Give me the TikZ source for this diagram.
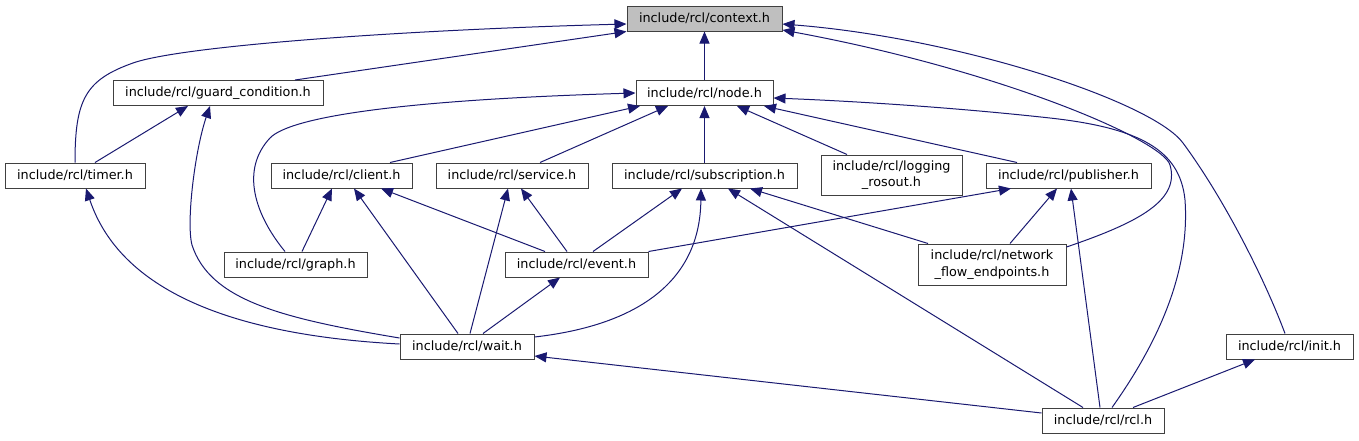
\documentclass[tikz,border=0pt]{standalone}
\usepackage{fontspec}
\setmainfont{DejaVu Sans}
\usepackage{tikz}
\usetikzlibrary{arrows.meta}
\definecolor{edgeblue}{HTML}{191970}
\definecolor{boxgray}{HTML}{404040}
\definecolor{focusgray}{HTML}{BFBFBF}

\begin{document}
\begin{tikzpicture}[x=0.75pt, y=-0.75pt,
  hdr/.style={draw=boxgray, fill=white, line width=0.75pt, inner sep=0pt,
    minimum height=18.75pt, align=center, font=\fontsize{9.6}{12.5}\selectfont},
  inc/.style={draw=edgeblue, line width=0.75pt, -{Triangle[length=9pt,width=7.5pt]}}]
  \useasboundingbox (0,0) rectangle (1359,440);

  \node[hdr, fill=focusgray, minimum width=116.25pt] (context) at (704.5,18.5) {include/rcl/context.h};
  \node[hdr, minimum width=102.75pt] (rclnode) at (704.5,93) {include/rcl/node.h};
  \node[hdr, minimum width=157.5pt] (guard) at (218,93) {include/rcl/guard\_condition.h};
  \node[hdr, minimum width=105pt] (timer) at (75,175.5) {include/rcl/timer.h};
  \node[hdr, minimum width=105.75pt] (client) at (341.5,175.5) {include/rcl/client.h};
  \node[hdr, minimum width=114pt] (service) at (512,175.5) {include/rcl/service.h};
  \node[hdr, minimum width=138.75pt] (subscription) at (704.5,175.5) {include/rcl/subscription.h};
  \node[hdr, minimum width=105.75pt, minimum height=30pt] (logging) at (891.5,175) {include/rcl/logging\\\_rosout.h};
  \node[hdr, minimum width=123.75pt] (publisher) at (1068.5,175.5) {include/rcl/publisher.h};
  \node[hdr, minimum width=107.25pt] (graph) at (295.5,264.5) {include/rcl/graph.h};
  \node[hdr, minimum width=107.25pt] (event) at (576.5,264.5) {include/rcl/event.h};
  \node[hdr, minimum width=111pt, minimum height=30.75pt] (flow) at (992,264.5) {include/rcl/network\\\_flow\_endpoints.h};
  \node[hdr, minimum width=100.5pt] (wait) at (467,346.5) {include/rcl/wait.h};
  \node[hdr, minimum width=95.25pt] (init) at (1289.5,346.5) {include/rcl/init.h};
  \node[hdr, minimum width=91.5pt] (rcl) at (1103,420.5) {include/rcl/rcl.h};

  \draw[inc] (timer.north) .. controls (75,100) and (85,80) .. (133,63)
    .. controls (181,46) and (400,30) .. (context.west |- 0,24);
  \draw[inc] (guard.north -| 295,0) -- (context.south west);
  \draw[inc] (rclnode) -- (context);
  \draw[inc] (flow.east |- 0,247) .. controls (1140,222) and (1180,200) .. (1170,165)
    .. controls (1163,140) and (1000,70) .. (context.east |- 0,30);
  \draw[inc] (init.north -| 1285,0) .. controls (1265,280) and (1225,200) .. (1183,143)
    .. controls (1153,102) and (960,38) .. (context.east |- 0,24);

  \draw[inc] (graph.north -| 285,0) .. controls (255,215) and (240,170) .. (270,138)
    .. controls (290,117) and (400,100) .. (rclnode.west);
  \draw[inc] (client.north -| 390,0) -- (rclnode.south -| 640,0);
  \draw[inc] (service.north -| 540,0) -- (rclnode.south -| 668,0);
  \draw[inc] (subscription) -- (rclnode);
  \draw[inc] (logging.north -| 847,0) -- (rclnode.south -| 737,0);
  \draw[inc] (publisher.north -| 1017,0) -- (rclnode.south -| 764,0);
  \draw[inc] (rcl.north -| 1112,0) .. controls (1160,340) and (1190,270) .. (1185,200)
    .. controls (1180,150) and (1140,128) .. (1050,118)
    .. controls (950,107) and (850,101) .. (rclnode.east |- 0,98);

  \draw[inc] (timer.north -| 95,0) -- (guard.south -| 188,0);
  \draw[inc] (wait.west |- 0,338) .. controls (280,318) and (210,300) .. (192,245)
    .. controls (186,222) and (195,150) .. (guard.south -| 210,0);
  \draw[inc] (wait.west |- 0,344) .. controls (230,335) and (120,290) .. (timer.south -| 86,0);

  \draw[inc] (graph.north -| 302,0) -- (client.south -| 332,0);
  \draw[inc] (wait.north -| 458,0) -- (client.south -| 354,0);
  \draw[inc] (event.north -| 545,0) -- (client.south -| 381,0);
  \draw[inc] (wait.north -| 470,0) -- (service.south -| 508,0);
  \draw[inc] (event.north -| 567,0) -- (service.south -| 521,0);

  \draw[inc] (event.north -| 593,0) -- (subscription.south -| 682,0);
  \draw[inc] (wait.east |- 0,337) .. controls (640,325) and (700,280) .. (subscription.south -| 701,0);
  \draw[inc] (rcl.north -| 1083,0) -- (subscription.south -| 728,0);
  \draw[inc] (flow.north -| 928,0) -- (subscription.south -| 750,0);

  \draw[inc] (event.north east) -- (publisher.south -| 1011,0);
  \draw[inc] (flow.north -| 1010,0) -- (publisher.south -| 1057,0);
  \draw[inc] (rcl.north -| 1100,0) -- (publisher.south -| 1071,0);

  \draw[inc] (wait.north -| 483,0) -- (event.south -| 560,0);
  \draw[inc] (rcl.west |- 0,413) -- (wait.east |- 0,356);
  \draw[inc] (rcl.north -| 1133,0) -- (init.south -| 1255,0);
\end{tikzpicture}
\end{document}
